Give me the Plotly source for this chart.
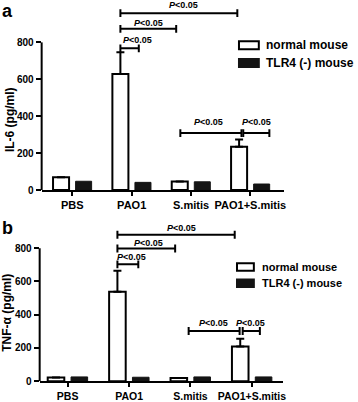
import plotly.graph_objects as go

# ---------------- data ----------------
categories = ["PBS", "PAO1", "S.mitis", "PAO1+S.mitis"]
series_names = ["normal mouse", "TLR4 (-) mouse"]

il6_normal = [70, 629, 46, 235]
il6_normal_err = [0, 118, 0, 39]
il6_tlr4 = [48, 42, 45, 33]

tnf_normal = [22, 539, 20, 209]
tnf_normal_err = [0, 125, 0, 46]
tnf_tlr4 = [26, 24, 26, 26]

y_ticks = [0, 200, 400, 600, 800]
sig_text = "<i>P</i>&lt;0.05"

# significance brackets: (x start, x end, bracket level, label x, label y)
sig_a = [
    (0.81, 2.78, 958, 1.875, 1003),
    (0.81, 1.75, 873, 1.29, 903),
    (0.81, 1.12, 768, 1.09, 812),
    (1.82, 2.85, 309, 2.29, 368),
    (2.88, 3.32, 309, 3.11, 368),
]
sig_b = [
    (0.81, 2.72, 881, 1.86, 924),
    (0.81, 1.75, 798, 1.32, 833),
    (0.81, 1.15, 703, 1.04, 745),
    (1.97, 2.80, 302, 2.37, 350),
    (2.85, 3.13, 302, 2.98, 350),
]

W, H = 358, 402
FONT = "Liberation Sans, Arial, sans-serif"

# ---------------- layout geometry (pixels) ----------------
panels = [
    dict(name="a", xl=42, xr=286, y0=193, ytop=2, y800=43, xr0=-0.517, xr1=3.56,
         normal=il6_normal, err=il6_normal_err, tlr4=il6_tlr4, sig=sig_a, cap=21,
         title="IL-6 (pg/ml)", title_xy=(9.5, 121.5), letter_xy=(8, 11.5),
         leg_box=(241, 261), leg_rows=(46, 64), leg_h=8, leg_tx=266, leg_fs=12,
         xfs=11, yfs=10),
    dict(name="b", xl=40, xr=285, y0=387, ytop=222, y800=252, xr0=-0.456, xr1=3.50,
         normal=tnf_normal, err=tnf_normal_err, tlr4=tnf_tlr4, sig=sig_b, cap=24,
         title="TNF-α (pg/ml)", title_xy=(7.5, 317), letter_xy=(8, 231),
         leg_box=(239, 256), leg_rows=(271, 287.5), leg_h=7.5, leg_tx=262, leg_fs=11,
         xfs=10.5, yfs=10),
]

fig = go.Figure()
shapes = []
annotations = []
x_pos = list(range(len(categories)))
bar_w = 0.27

for i, p in enumerate(panels):
    xa = "x" if i == 0 else "x2"
    ya = "y" if i == 0 else "y2"
    ymax = (p["y0"] - p["ytop"]) * 800.0 / (p["y0"] - p["y800"])

    fig.add_trace(go.Bar(
        x=x_pos, y=p["normal"], name=series_names[0], xaxis=xa, yaxis=ya,
        width=bar_w, offset=-0.19 - bar_w / 2,
        marker=dict(color="white", line=dict(color="black", width=2)),
        error_y=dict(type="data", array=p["err"], arrayminus=[0] * 4, symmetric=False,
                     color="black", thickness=2, width=4),
        showlegend=False,
    ))
    fig.add_trace(go.Bar(
        x=x_pos, y=p["tlr4"], name=series_names[1], xaxis=xa, yaxis=ya,
        width=bar_w, offset=0.19 - bar_w / 2,
        marker=dict(color="#141414", line=dict(color="#141414", width=1)),
        showlegend=False,
    ))

    axis_x = dict(
        domain=[p["xl"] / W, p["xr"] / W], range=[p["xr0"], p["xr1"]],
        anchor=ya, showline=True, linecolor="black", linewidth=2,
        ticks="outside", ticklen=4, tickwidth=2, tickcolor="black",
        tickvals=x_pos, ticktext=categories, showgrid=False, zeroline=False,
        tickfont=dict(family=FONT, size=p["xfs"], color="black", weight=700),
        fixedrange=True,
    )
    axis_y = dict(
        domain=[1 - p["y0"] / H, 1 - p["ytop"] / H], range=[0, ymax],
        anchor=xa, showline=False, showgrid=False, zeroline=False,
        ticks="outside", ticklen=5, tickwidth=2, tickcolor="black",
        tickvals=y_ticks, ticktext=[str(v) for v in y_ticks],
        tickfont=dict(family=FONT, size=p["yfs"], color="black", weight=700),
        fixedrange=True,
    )
    if i == 0:
        fig.update_layout(xaxis=axis_x, yaxis=axis_y)
    else:
        fig.update_layout(xaxis2=axis_x, yaxis2=axis_y)

    # y axis line only up to the 800 tick
    shapes.append(dict(type="line", xref=xa + " domain", yref=ya, x0=0, x1=0,
                       y0=0, y1=y_ticks[-1], line=dict(color="black", width=2)))

    # significance brackets
    for (sx0, sx1, sy, lx, ly) in p["sig"]:
        c = p["cap"]
        shapes.append(dict(type="line", xref=xa, yref=ya, x0=sx0, x1=sx1, y0=sy, y1=sy,
                           line=dict(color="black", width=2)))
        for sx in (sx0, sx1):
            shapes.append(dict(type="line", xref=xa, yref=ya, x0=sx, x1=sx,
                               y0=sy - c, y1=sy + c, line=dict(color="black", width=2)))
        annotations.append(dict(x=lx, y=ly, xref=xa, yref=ya, text=sig_text,
                                showarrow=False, xanchor="center", yanchor="middle",
                                font=dict(family=FONT, size=9, color="black", weight=700)))

    # y-axis title
    tx, ty = p["title_xy"]
    annotations.append(dict(x=tx / W, y=1 - ty / H, xref="paper", yref="paper",
                            text=p["title"], textangle=-90, showarrow=False,
                            xanchor="center", yanchor="middle",
                            font=dict(family=FONT, size=12, color="black", weight=700)))
    # panel letter
    lx, ly = p["letter_xy"]
    annotations.append(dict(x=lx / W, y=1 - ly / H, xref="paper", yref="paper",
                            text=p["name"], showarrow=False, xanchor="center",
                            yanchor="middle", borderpad=0,
                            font=dict(family=FONT, size=18, color="black", weight=700)))

    # legend (drawn manually to match the box shape)
    bx0, bx1 = p["leg_box"]
    for k, (row, fill, nm) in enumerate(zip(p["leg_rows"], ["white", "#141414"], series_names)):
        hh = p["leg_h"] / 2
        shapes.append(dict(type="rect", xref="paper", yref="paper",
                           x0=bx0 / W, x1=bx1 / W, y0=1 - (row + hh) / H, y1=1 - (row - hh) / H,
                           fillcolor=fill, line=dict(color="black" if k == 0 else "#141414", width=2)))
        annotations.append(dict(x=p["leg_tx"] / W, y=1 - row / H, xref="paper", yref="paper",
                                text=nm, showarrow=False, xanchor="left", yanchor="middle",
                                font=dict(family=FONT, size=p["leg_fs"], color="black", weight=700)))

fig.update_layout(
    width=W, height=H, autosize=False,
    margin=dict(l=0, r=0, t=0, b=0),
    paper_bgcolor="white", plot_bgcolor="white",
    barmode="overlay", showlegend=False,
    shapes=shapes, annotations=annotations,
    font=dict(family=FONT, color="black"),
)

fig.write_html(
    "out.html",
    config={"displayModeBar": False},
    post_script="document.body.style.margin='0';document.body.style.padding='0';"
                "document.body.style.overflow='hidden';",
)
